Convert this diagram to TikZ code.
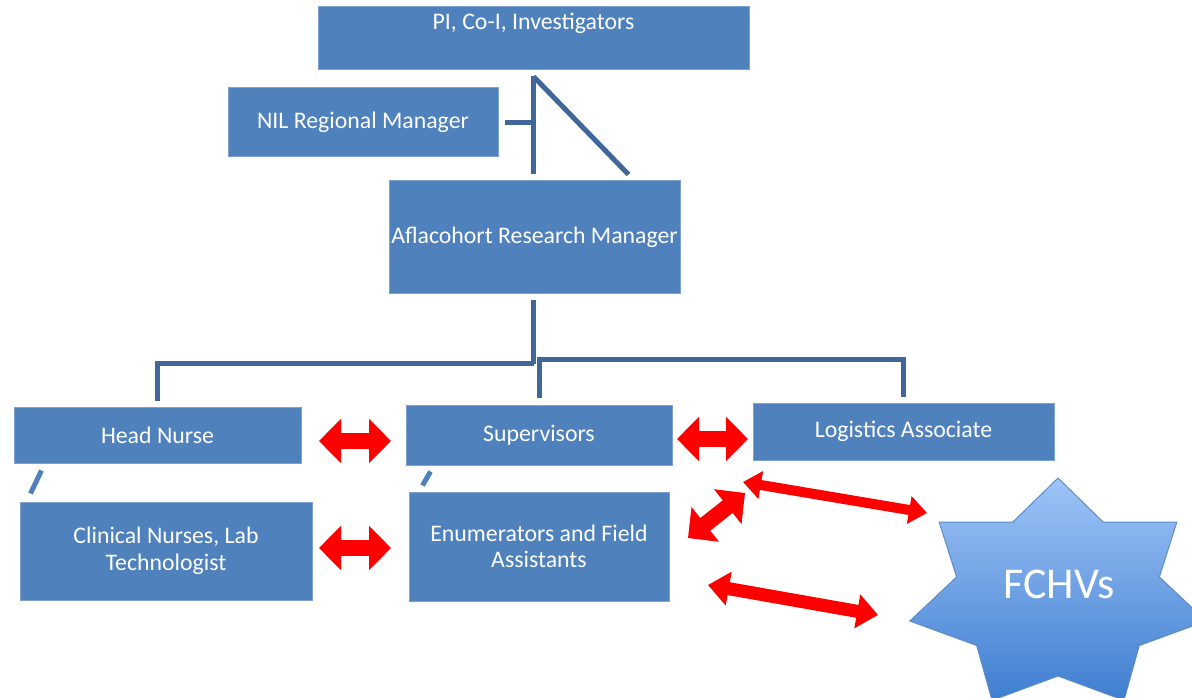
\documentclass[tikz,border=0pt]{standalone}
\usepackage{fontspec}
\setmainfont{Carlito}
\usetikzlibrary{calc,arrows.meta}
\definecolor{boxblue}{HTML}{4F81BD}
\definecolor{boxedge}{HTML}{7DA2D0}
\definecolor{connblue}{HTML}{41679A}
\definecolor{startop}{HTML}{9EC4F7}
\definecolor{starbot}{HTML}{3F7ED0}
\definecolor{staredge}{HTML}{5E8CC6}
\tikzset{
  box/.style={draw=boxedge, line width=1pt, fill=boxblue, inner sep=0pt, text=white,
    font=\fontsize{23.8}{26.5}\selectfont, align=center},
  conn/.style={draw=connblue, line width=5pt, line cap=butt, line join=miter},
  tickmark/.style={draw=boxblue, line width=5pt, line cap=butt},
  bigarrow/.style={draw=red, line width=16pt, line cap=butt,
    {Triangle[length=22pt,width=43pt]}-{Triangle[length=22pt,width=43pt]}},
  thinarrow/.style={draw=red, line width=10pt, line cap=butt,
    {Triangle[length=18pt,width=27pt]}-{Triangle[length=18pt,width=27pt]}},
  midarrow/.style={draw=red, line width=13pt, line cap=butt,
    {Triangle[length=21pt,width=33pt]}-{Triangle[length=21pt,width=33pt]}},
  arrowshadow/.style={draw=black, draw opacity=0.12, shift={(2pt,-3pt)}},
}
\begin{document}
\begin{tikzpicture}[x=1pt,y=-1pt]
\useasboundingbox (0,0) rectangle (1192,698);
\clip (0,0) rectangle (1192,698);

% boxes
\node[box, minimum width=431pt, minimum height=63pt,
  label={[text=white, font=\fontsize{23.8}{26.5}\selectfont, anchor=north, yshift=-3pt]north:PI, Co-I, Investigators}]
  (pi) at (533.5,38.5) {};
\node[box, minimum width=270pt, minimum height=69pt] (nil) at (363,122.5) {NIL Regional Manager};
\node[box, minimum width=291pt, minimum height=112pt] (afl) at (534.5,237) {Aflacohort Research Manager};
\node[box, minimum width=287pt, minimum height=56pt] (hn) at (157.5,435) {Head Nurse};
\node[box, minimum width=266pt, minimum height=60pt] (sup) at (539,435) {Supervisors};
\node[box, minimum width=301pt, minimum height=57pt] (log) at (903.5,431.5) {Logistics Associate};
\node[box, minimum width=292pt, minimum height=98pt] (cn) at (166,551) {Clinical Nurses, Lab\\Technologist};
\node[box, minimum width=260pt, minimum height=109pt] (en) at (539,546.5) {Enumerators and Field\\Assistants};

% top connectors
\coordinate (t) at ($(pi.south)+(0,6)$);
\draw[conn] (t) -- ($(t |- afl.north)+(0,-6)$);
\draw[conn] (t) -- ($(afl.north)+(94,-6)$);
\draw[conn] ($(nil.east)+(6,0)$) -- (t |- nil.east);

% lower tree
\coordinate (m) at ($(afl.south)+(-1,70)$);
\draw[conn] ($(afl.south)+(-1,6)$) -- (m);
\draw[conn] ($(hn.north)+(0,-6)$) |- (m);
\draw[conn] ($(sup.north)+(0,-7)$) |- ($(log.north)+(0,-43)$) -- ($(log.north)+(0,-6)$);

% small ticks
\draw[tickmark] ($(hn.south west)+(28,7)$) -- ($(cn.north west)+(11,-8)$);
\draw[tickmark] ($(sup.south west)+(25,6)$) -- ($(en.north west)+(14,-6)$);

% star
\draw[staredge, line width=1pt, top color=startop, bottom color=starbot]
  (1058,478) \foreach \i in {1,...,13}{
    -- ({1058+(mod(\i,2)==0 ? 152 : 104)*cos(90+\i*360/14)},
        {595-(mod(\i,2)==0 ? 117 : 81)*sin(90+\i*360/14)})
  } -- cycle;
\node[text=white, font=\fontsize{44}{50}\selectfont] (fchv) at (1059,584) {FCHVs};

% red arrows
\coordinate (a1) at (319,441); \coordinate (a2) at (391,441);
\coordinate (b1) at (677,439); \coordinate (b2) at (748,439);
\coordinate (c1) at (319,548); \coordinate (c2) at (391,548);
\coordinate (d1) at (688,538); \coordinate (d2) at (745,493);
\coordinate (e1) at (743,482); \coordinate (e2) at (927,513);
\coordinate (f1) at (708,585); \coordinate (f2) at (878,615);
\foreach \p/\q in {a1/a2,b1/b2,c1/c2,d1/d2}{
  \draw[bigarrow, arrowshadow] (\p) -- (\q);
  \draw[bigarrow] (\p) -- (\q);
}
\draw[thinarrow, arrowshadow] (e1) -- (e2);
\draw[thinarrow] (e1) -- (e2);
\draw[midarrow, arrowshadow] (f1) -- (f2);
\draw[midarrow] (f1) -- (f2);
\end{tikzpicture}
\end{document}
